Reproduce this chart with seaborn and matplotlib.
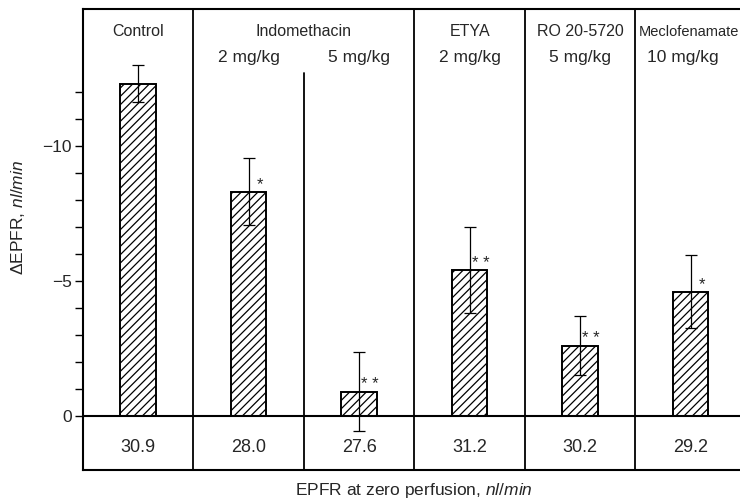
import seaborn as sns
import numpy as np
import pandas as pd
import matplotlib
matplotlib.use('Agg')
import matplotlib.pyplot as plt
from matplotlib.ticker import FixedLocator

sns.set_style('ticks')
plt.rcParams['font.family'] = ['Liberation Sans', 'DejaVu Sans']
plt.rcParams['mathtext.fontset'] = 'custom'
plt.rcParams['mathtext.rm'] = 'Liberation Sans'
plt.rcParams['mathtext.it'] = 'Liberation Sans:italic'
plt.rcParams['hatch.linewidth'] = 0.9

#------------------------------------------------------------------------------
# Data
#------------------------------------------------------------------------------
groups = ['Control', 'Indo 2', 'Indo 5', 'ETYA', 'RO 20-5720', 'Meclofenamate']
delta_epfr = [-12.3, -8.3, -0.9, -5.4, -2.6, -4.6]   # nl/min
sem = [0.7, 1.25, 1.45, 1.6, 1.1, 1.35]
epfr_zero = ['30.9', '28.0', '27.6', '31.2', '30.2', '29.2']
signif = ['', '*', '* *', '* *', '* *', '*']
drug_names = ['Control', 'Indomethacin', 'ETYA', 'RO 20-5720', 'Meclofenamate']
doses = ['2 mg/kg', '5 mg/kg', '2 mg/kg', '5 mg/kg', '10 mg/kg']
yticks_major = [-10, -5, 0]
yticks_minor = list(range(-12, 1))

#------------------------------------------------------------------------------
# Plot
#------------------------------------------------------------------------------
fig = plt.figure(figsize=(7.4, 4.99), dpi=100)
ax = fig.add_axes([0.112, 0.058, 0.896, 0.924])

df = pd.DataFrame({'group': groups, 'delta': delta_epfr})
sns.barplot(data=df, x='group', y='delta', width=0.32, color='white',
            edgecolor='black', linewidth=1.4, errorbar=None, ax=ax)
for p in ax.patches:
    p.set_facecolor('white')
    p.set_hatch('////')

xpos = np.arange(len(groups))
ax.errorbar(xpos, delta_epfr, yerr=sem, fmt='none', ecolor='black',
            elinewidth=0.9, capsize=4, capthick=0.9)

# significance marks
for x, v, s in zip(xpos, delta_epfr, signif):
    if s:
        ax.text(x + 0.1, v - 0.25, s, ha='center', va='center', fontsize=12)

ax.set_xlim(-0.5, 5.5)
ax.set_ylim(2.0, -15.06)

# panel separators, zero line
for xs in [0.5, 2.5, 3.5, 4.5]:
    ax.axvline(xs, color='black', lw=1.3)
ax.plot([1.5, 1.5], [-12.7, 2.0], color='black', lw=1.3)
ax.axhline(0, color='black', lw=1.5)

# group labels
name_x = [0, 1.5, 3, 4]
for x, t in zip(name_x, drug_names[:4]):
    ax.text(x, -14.06, t, ha='center', va='baseline', fontsize=11.5)
# last one squeezed against the right edge, as in the original
ax.text(4.53, -14.06, drug_names[4], ha='left', va='baseline', fontsize=10.5)
dose_x = [1, 2, 3, 4, 4.93]
for x, t in zip(dose_x, doses):
    ax.text(x, -13.1, t, ha='center', va='baseline', fontsize=12.5)

# EPFR at zero perfusion row
for x, t in zip(xpos, epfr_zero):
    ax.text(x, 1.33, t, ha='center', va='baseline', fontsize=13)

ax.yaxis.set_major_locator(FixedLocator(yticks_major))
ax.yaxis.set_minor_locator(FixedLocator(yticks_minor))
ax.set_yticklabels(['\u221210', '\u22125', '0'], fontsize=12.5)
ax.tick_params(axis='y', which='both', length=6, width=1, color='black', direction='out')
ax.tick_params(axis='y', which='major', pad=2)
ax.set_xticks([])

for sp in ax.spines.values():
    sp.set_linewidth(1.5)
    sp.set_color('black')

ax.set_xlabel('EPFR at zero perfusion, $\\mathit{nl/min}$', fontsize=12.5, labelpad=8)
ax.set_ylabel('\u0394EPFR, $\\mathit{nl/min}$', fontsize=12.5)
ax.yaxis.set_label_coords(-0.085, 0.547)

fig.savefig('out.png', dpi=100)
